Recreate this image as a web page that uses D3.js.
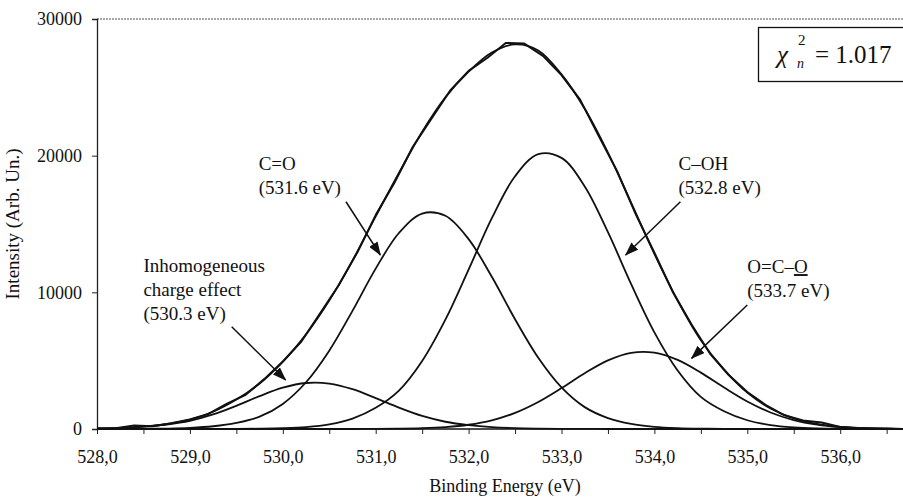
<!DOCTYPE html>
<html>
<head>
<meta charset="utf-8">
<script src="https://cdn.jsdelivr.net/npm/d3@7"></script>
<style>
  body { margin: 0; background: #fff; }
  svg, svg text { font-family: "Liberation Serif", "Times New Roman", serif; }
</style>
</head>
<body>
<svg id="chart" width="903" height="500"></svg>
<script>
// Binding energy grid of the fitted curves (eV)
const energy = [528.00, 528.25, 528.50, 528.75, 529.00, 529.25, 529.50, 529.75, 530.00, 530.25,
    530.50, 530.75, 531.00, 531.25, 531.50, 531.75, 532.00, 532.25, 532.50, 532.75,
    533.00, 533.25, 533.50, 533.75, 534.00, 534.25, 534.50, 534.75, 535.00, 535.25,
    535.50, 535.75, 536.00, 536.25, 536.50, 536.75];

// fitted components (intensity, arb. un.)
const inhomogeneous = [40, 80, 170, 330, 600, 1063, 1697, 2406, 3022, 3367,
    3327, 2915, 2265, 1560, 953, 530, 280, 130, 60, 28,
    12, 5, 0, 0, 0, 0, 0, 0, 0, 0, 0, 0, 0, 0, 0, 0];
const carbonyl = [0, 1, 10, 30, 80, 200, 450, 900, 1836, 3420,
    5732, 8646, 11735, 14340, 15766, 15601, 13893, 11135, 8031, 5215,
    3045, 1601, 800, 370, 160, 65, 25, 9, 3, 0, 0, 0, 0, 0, 0, 0];
const hydroxyl = [0, 0, 0, 0, 0, 0, 6, 20, 55, 140,
    340, 760, 1550, 2809, 4977, 8001, 11665, 15423, 18493, 20113,
    19840, 17750, 14403, 10600, 7074, 4283, 2351, 1300, 640, 290,
    125, 50, 18, 5, 0, 0];
const carboxyl = [0, 0, 0, 0, 0, 0, 0, 0, 0, 0, 0, 0, 6, 19, 54, 136, 310, 637, 1182, 1981,
    2993, 4081, 5022, 5577, 5588, 5053, 4124, 3036, 2017, 1210,
    655, 320, 141, 56, 20, 6];
const envelope = [40, 81, 180, 360, 680, 1263, 2153, 3326, 4913, 6927,
    9399, 12321, 15556, 18728, 21750, 24268, 26148, 27550, 28140, 27700,
    25950, 23437, 20225, 16547, 12822, 9401, 6500, 4345, 2660, 1500,
    780, 370, 159, 61, 20, 6];

// measured spectrum
const measuredEnergy = [528.0, 528.2, 528.4, 528.6, 528.8, 529.0, 529.2, 529.4, 529.6, 529.8,
    530.0, 530.2, 530.4, 530.6, 530.8, 531.0, 531.2, 531.4, 531.6, 531.8,
    532.0, 532.2, 532.4, 532.6, 532.8, 533.0, 533.2, 533.4, 533.6, 533.8,
    534.0, 534.2, 534.4, 534.6, 534.8, 535.0, 535.2, 535.4, 535.6, 535.8,
    536.0, 536.2, 536.4, 536.6, 536.8];
const measured = [30, 60, 250, 200, 420, 700, 1100, 1850, 2500, 3650,
    4950, 6400, 8450, 10500, 12900, 15650, 18000, 20650, 22700, 24750,
    26200, 27150, 28250, 28200, 27300, 25900, 24100, 21450, 18850, 15700,
    12900, 10000, 7650, 5500, 3950, 2700, 1750, 1000, 620, 480,
    150, 70, 30, 10, 5];

const xTicks = [528, 528.5, 529, 529.5, 530, 530.5, 531, 531.5, 532, 532.5,
    533, 533.5, 534, 534.5, 535, 535.5, 536, 536.5];
const yTicks = [0, 10000, 20000, 30000];

// peak labels: text anchor and arrow (from -> to) in data units
const annotations = [
    { lines: ['Inhomogeneous', 'charge effect', '(530.3 eV)'], at: [528.50, 11480],
      from: [529.45, 7480], to: [530.03, 3590] },
    { lines: ['C=O', '(531.6 eV)'], at: [529.74, 18950],
      from: [530.68, 16630], to: [531.05, 12730] },
    { lines: ['C\u2013OH', '(532.8 eV)'], at: [534.26, 18950],
      from: [534.28, 16630], to: [533.69, 12730] },
    { lines: ['O=C\u2013O', '(533.7 eV)'], at: [535.00, 11410],
      from: [535.00, 9070], to: [534.40, 5170] }
];

const serif = '"Liberation Serif", "Times New Roman", serif';

const svg = d3.select('#chart');
const width = 903, height = 500;
const margin = { top: 19, left: 97, bottom: 71 };

svg.append('rect').attr('width', width).attr('height', height).attr('fill', '#fff');

const x = d3.scaleLinear()
    .domain([528, 536.7])
    .range([margin.left, margin.left + 8.7 * 92.9]);

const y = d3.scaleLinear()
    .domain([0, 30000])
    .range([height - margin.bottom, margin.top]);

svg.append('defs').append('marker')
    .attr('id', 'arrow')
    .attr('markerUnits', 'userSpaceOnUse')
    .attr('markerWidth', 14)
    .attr('markerHeight', 10)
    .attr('refX', 13)
    .attr('refY', 5)
    .attr('orient', 'auto')
    .append('path')
    .attr('d', 'M0,0 L14,5 L0,10 Z')
    .attr('fill', '#111');

// top frame line (dotted grey)
svg.append('line')
    .attr('x1', margin.left).attr('x2', width)
    .attr('y1', y(30000)).attr('y2', y(30000))
    .attr('stroke', '#8a8a8a')
    .attr('stroke-width', 1.5)
    .attr('stroke-dasharray', '2,1');

// Axes
const xAxis = svg.append('g')
    .attr('transform', `translate(0,${y(0)})`)
    .call(d3.axisBottom(x)
        .tickValues(xTicks)
        .tickSize(5)
        .tickPadding(16)
        .tickFormat(d => Number.isInteger(d) ? d.toFixed(1).replace('.', ',') : ''));
xAxis.select('.domain').attr('d', `M${margin.left},0H${width}`).attr('stroke', '#111').attr('stroke-width', 1.3);

const yAxis = svg.append('g')
    .attr('transform', `translate(${margin.left},0)`)
    .call(d3.axisLeft(y)
        .tickValues(yTicks)
        .tickSize(5)
        .tickPadding(10)
        .tickFormat(d3.format('d')));
yAxis.select('.domain').attr('stroke', '#222').attr('stroke-width', 1.3);

svg.selectAll('g').attr('font-family', serif);
svg.selectAll('.tick line').attr('stroke', '#222');
svg.selectAll('.tick text')
    .attr('fill', '#111')
    .attr('font-family', serif)
    .attr('font-size', 18);

// Axis titles
svg.append('text')
    .attr('x', 505)
    .attr('y', 492)
    .attr('text-anchor', 'middle')
    .attr('font-family', serif)
    .attr('font-size', 18)
    .attr('fill', '#111')
    .text('Binding Energy (eV)');

svg.append('text')
    .attr('transform', `translate(19,${(y(0) + y(30000)) / 2}) rotate(-90)`)
    .attr('text-anchor', 'middle')
    .attr('font-family', serif)
    .attr('font-size', 19)
    .attr('fill', '#111')
    .text('Intensity (Arb. Un.)');

// Curves
const line = d3.line()
    .x(d => x(d[0]))
    .y(d => y(d[1]))
    .curve(d3.curveCatmullRom.alpha(0.5));

const components = [inhomogeneous, carbonyl, hydroxyl, carboxyl];

svg.append('clipPath').attr('id', 'plot-clip')
    .append('rect')
    .attr('x', margin.left).attr('y', 0)
    .attr('width', width - margin.left).attr('height', y(0) + 2);

const curves = svg.append('g').attr('clip-path', 'url(#plot-clip)');

curves.selectAll('.component')
    .data(components)
    .join('path')
    .attr('class', 'component')
    .attr('fill', 'none')
    .attr('stroke', '#111')
    .attr('stroke-width', 1.8)
    .attr('d', vals => line(energy.map((e, i) => [e, vals[i]])));

curves.append('path')
    .attr('fill', 'none')
    .attr('stroke', '#111')
    .attr('stroke-width', 1.8)
    .attr('d', line(energy.map((e, i) => [e, envelope[i]])));

curves.append('path')
    .attr('fill', 'none')
    .attr('stroke', '#111')
    .attr('stroke-width', 2)
    .attr('stroke-linejoin', 'round')
    .attr('d', d3.line()
        .x(d => x(d[0]))
        .y(d => y(d[1]))(measuredEnergy.map((e, i) => [e, measured[i]])));

// Annotations
const notes = svg.append('g');
annotations.forEach(a => {
    const t = notes.append('text')
        .attr('x', x(a.at[0]))
        .attr('y', y(a.at[1]))
        .attr('font-family', serif)
        .attr('font-size', 19)
        .attr('fill', '#111');
    a.lines.forEach((l, i) => {
        const ts = t.append('tspan')
            .attr('x', x(a.at[0]))
            .attr('dy', i === 0 ? 0 : 24);
        if (l === 'O=C\u2013O') {
            ts.text('O=C\u2013');
            t.append('tspan').style('text-decoration', 'underline').text('O');
        } else {
            ts.text(l);
        }
    });
    notes.append('line')
        .attr('x1', x(a.from[0])).attr('y1', y(a.from[1]))
        .attr('x2', x(a.to[0])).attr('y2', y(a.to[1]))
        .attr('stroke', '#111')
        .attr('stroke-width', 1.5)
        .attr('marker-end', 'url(#arrow)');
});

// chi-square box
const box = svg.append('g').attr('font-family', serif).attr('fill', '#111');
box.append('rect')
    .attr('x', 758.5).attr('y', 27.5)
    .attr('width', 160).attr('height', 54)
    .attr('fill', '#fff')
    .attr('stroke', '#111')
    .attr('stroke-width', 1.3);
box.append('text')
    .attr('x', 777).attr('y', 63)
    .attr('font-size', 25)
    .attr('font-style', 'italic')
    .text('\u03c7');
box.append('text')
    .attr('x', 798).attr('y', 45)
    .attr('font-size', 15)
    .text('2');
box.append('text')
    .attr('x', 797).attr('y', 68)
    .attr('font-size', 14)
    .attr('font-style', 'italic')
    .text('n');
box.append('text')
    .attr('x', 815).attr('y', 63)
    .attr('font-size', 25)
    .text('= 1.017');
</script>
</body>
</html>
